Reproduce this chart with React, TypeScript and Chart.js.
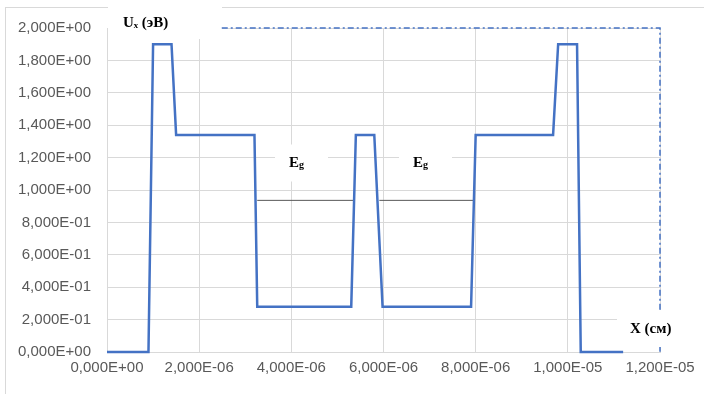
import React, { useEffect, useRef } from "react";
import { Chart, registerables } from "chart.js";

Chart.register(...registerables);

// Potential profile U(x)
const xValues = [0, 0.9e-6, 1.0e-6, 1.4e-6, 1.5e-6, 3.2e-6, 3.26e-6, 5.3e-6, 5.4e-6, 5.8e-6, 5.98e-6, 7.9e-6, 8.0e-6, 9.68e-6, 9.79e-6, 10.2e-6, 10.28e-6, 11.2e-6];
const uValues = [0, 0, 1.9, 1.9, 1.34, 1.34, 0.28, 0.28, 1.34, 1.34, 0.28, 0.28, 1.34, 1.34, 1.9, 1.9, 0, 0];

// Eg level lines
const egLevel = 0.936;
const egLine1X = [3.26e-6, 5.34e-6];
const egLine2X = [5.91e-6, 7.98e-6];

// Dash-dot frame
const frameX = [2.49e-6, 1.2e-5, 1.2e-5];
const frameY = [2.0, 2.0, 0];

// Ticks
const yTickValues = [0, 0.2, 0.4, 0.6, 0.8, 1.0, 1.2, 1.4, 1.6, 1.8, 2.0];
const xTickValues = [0, 2e-6, 4e-6, 6e-6, 8e-6, 1e-5, 1.2e-5];

// Texts
const yAxisTitle = "Uₓ (эВ)";
const xAxisTitle = "X (см)";
const egMain = "E";
const egSub = "g";
const egLabelX = [4.08e-6, 6.77e-6];
const egLabelY = 1.176;

function fmt(v: number): string {
  const [m, e] = v.toExponential(3).split("e");
  const n = parseInt(e, 10);
  return m.replace(".", ",") + "E" + (n < 0 ? "-" : "+") + String(Math.abs(n)).padStart(2, "0");
}

const BLUE = "#4472C4";
const GRID = "#d9d9d9";

const decorPlugin = {
  id: "decor",
  beforeDraw(chart: any) {
    const ctx = chart.ctx;
    ctx.save();
    ctx.strokeStyle = GRID;
    ctx.lineWidth = 1;
    ctx.strokeRect(5.5, 7.5, 710, 400);
    ctx.restore();
  },
  beforeDatasetsDraw(chart: any) {
    const ctx = chart.ctx;
    const xs = chart.scales.x;
    const ys = chart.scales.y;
    ctx.save();
    ctx.fillStyle = "#ffffff";
    ctx.fillRect(108, 0, 114, 39);
    for (const lx of egLabelX) {
      const cx = xs.getPixelForValue(lx);
      const cy = ys.getPixelForValue(egLabelY);
      ctx.fillRect(cx - 20, cy - 17, 53, 37);
    }
    ctx.fillRect(617, 310, 80, 37);
    ctx.restore();
  },
  afterDatasetsDraw(chart: any) {
    const ctx = chart.ctx;
    const xs = chart.scales.x;
    const ys = chart.scales.y;
    ctx.save();
    ctx.fillStyle = "#ffffff";
    ctx.fillRect(617, 310, 80, 37);
    ctx.fillStyle = "#000000";
    ctx.textBaseline = "alphabetic";
    ctx.textAlign = "left";
    ctx.font = "bold 15px 'Liberation Serif', serif";
    ctx.fillText(yAxisTitle, 123, 27);
    ctx.fillText(xAxisTitle, 630, 333);
    for (const lx of egLabelX) {
      const cx = xs.getPixelForValue(lx);
      const cy = ys.getPixelForValue(egLabelY);
      ctx.font = "bold 15px 'Liberation Serif', serif";
      const w = ctx.measureText(egMain).width;
      const x0 = cx - 6;
      ctx.fillText(egMain, x0, cy + 6);
      ctx.font = "bold 10px 'Liberation Serif', serif";
      ctx.fillText(egSub, x0 + w, cy + 7);
    }
    ctx.restore();
  },
};

export default function App() {
  const ref = useRef<HTMLCanvasElement | null>(null);
  useEffect(() => {
    if (!ref.current) return;
    const chart = new Chart(ref.current, {
      type: "scatter",
      data: {
        datasets: [
          {
            data: xValues.map((x, i) => ({ x, y: uValues[i] })),
            showLine: true,
            borderColor: BLUE,
            borderWidth: 2.5,
            pointRadius: 0,
            tension: 0,
          },
          {
            data: egLine1X.map((x) => ({ x, y: egLevel })),
            showLine: true,
            borderColor: "#595959",
            borderWidth: 1,
            pointRadius: 0,
          },
          {
            data: egLine2X.map((x) => ({ x, y: egLevel })),
            showLine: true,
            borderColor: "#595959",
            borderWidth: 1,
            pointRadius: 0,
          },
          {
            data: frameX.map((x, i) => ({ x, y: frameY[i] })),
            showLine: true,
            borderColor: BLUE,
            borderWidth: 1.5,
            borderDash: [6, 3, 2, 3],
            pointRadius: 0,
          },
        ],
      },
      options: {
        responsive: false,
        animation: false,
        clip: 4 as any,
        layout: { padding: { left: 0, top: 28, right: 44, bottom: 0 } },
        plugins: { legend: { display: false }, tooltip: { enabled: false } },
        scales: {
          x: {
            type: "linear",
            min: 0,
            max: 1.2e-5,
            afterBuildTicks: (s: any) => {
              s.ticks = xTickValues.map((v) => ({ value: v }));
            },
            afterFit: (s: any) => {
              s.height = 42;
            },
            grid: { color: GRID, lineWidth: 1, drawTicks: false },
            border: { color: GRID, width: 1 },
            ticks: {
              padding: 7,
              color: "#595959",
              font: { family: "'Liberation Sans', Arial, sans-serif", size: 15 },
              callback: (v: any) => fmt(Number(v)),
              maxRotation: 0,
              autoSkip: false,
            },
          },
          y: {
            type: "linear",
            min: 0,
            max: 2.0,
            afterBuildTicks: (s: any) => {
              s.ticks = yTickValues.map((v) => ({ value: v }));
            },
            afterFit: (s: any) => {
              s.width = 107;
            },
            grid: { color: GRID, lineWidth: 1, drawTicks: false },
            border: { color: GRID, width: 1 },
            ticks: {
              padding: 16,
              color: "#595959",
              font: { family: "'Liberation Sans', Arial, sans-serif", size: 15 },
              callback: (v: any) => fmt(Number(v)),
              autoSkip: false,
            },
          },
        },
      },
      plugins: [decorPlugin],
    });
    return () => chart.destroy();
  }, []);
  return (
    <div style={{ position: "absolute", left: 0, top: 0, width: 704, height: 394, background: "#fff" }}>
      <canvas ref={ref} width={704} height={394} />
    </div>
  );
}
